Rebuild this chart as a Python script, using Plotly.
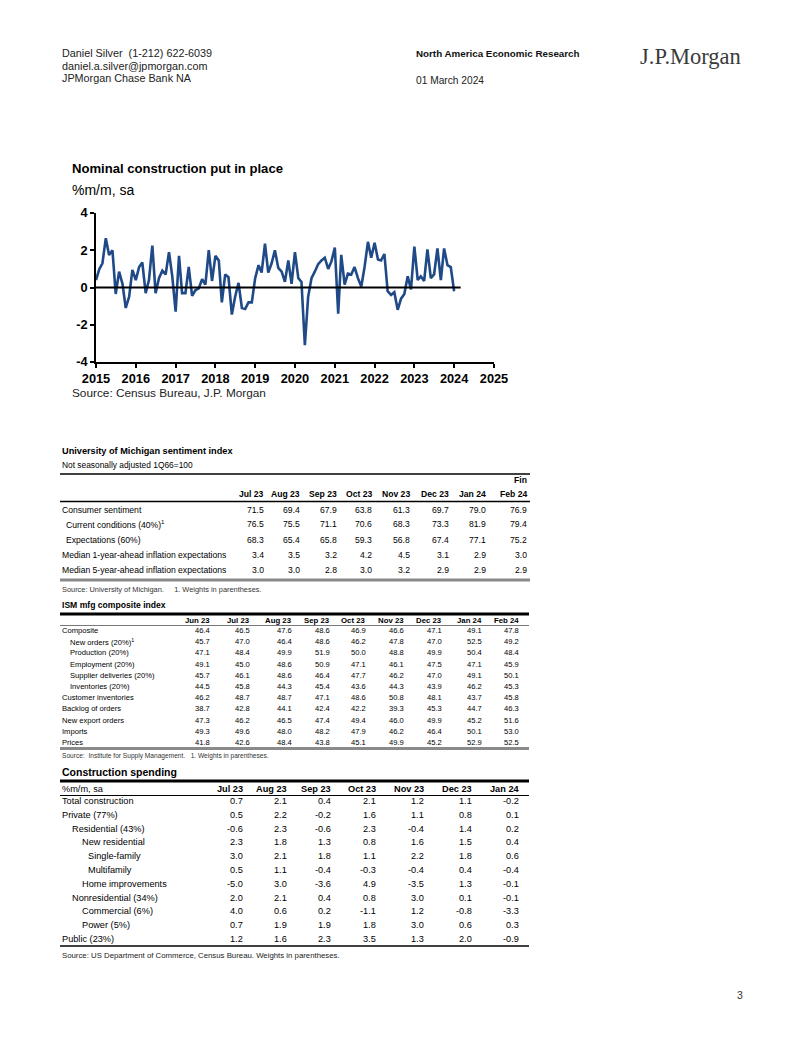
import pandas as pd
import plotly.graph_objects as go

W, H = 802, 1037
PAGE_OFFSET = 8  # the page body margin shifts the figure by 8px
SANS = "Liberation Sans, Arial, sans-serif"
SERIF = "Liberation Serif, Times New Roman, serif"

# ---- chart: nominal construction put in place, %m/m sa, monthly from Jan 2015
start_month = "2015-01-01"
construction_mom = [
    0.4, 1.0, 1.3, 2.65, 1.75, 2.0, -0.35, 0.85, 0.2, -1.1, -0.5, 0.95,
    0.4, 1.1, 1.35, -0.3, 0.4, 2.25, -0.3, 0.5, 0.9, 0.7, 1.9, 0.6,
    -1.3, 1.7, -0.3, -0.3, 1.1, -0.45, -0.15, -0.05, 0.45, 0.15, 2.0, 0.35,
    1.7, 1.45, -0.8, 0.7, 0.55, -1.45, -0.5, 0.25, -1.1, -1.15, -0.8, -0.8,
    0.5, 1.2, 0.8, 2.35, 0.8, 1.3, 2.0, 1.05, 0.85, 0.3, 1.45, 0.2,
    1.9, 0.5, 0.3, -3.1, -0.5, 0.5, 0.85, 1.25, 1.45, 1.6, 1.0, 1.4,
    2.15, -1.4, 1.75, 0.15, 0.75, 0.7, 1.1, 0.5, 0.05, 1.1, 2.45, 1.6,
    2.4, 1.5, 1.45, 1.8, -0.2, -0.4, -0.25, -1.2, -0.6, -0.35, 0.6, -0.1,
    2.2, 0.4, 0.6, 0.35, 2.05, 0.5, 0.7, 2.1, 0.4, 2.1, 1.2, 1.1,
    -0.2,
]
year_ticks = list(range(2015, 2026))
y_ticks = [-4, -2, 0, 2, 4]

# ---- University of Michigan sentiment index
mich_months = ["Jul 23", "Aug 23", "Sep 23", "Oct 23", "Nov 23", "Dec 23", "Jan 24", "Feb 24"]
mich_labels = ["Consumer sentiment", "Current conditions (40%)<sup>1</sup>", "Expectations (60%)",
               "Median 1-year-ahead inflation expectations", "Median 5-year-ahead inflation expectations"]
consumer_sentiment = [71.5, 69.4, 67.9, 63.8, 61.3, 69.7, 79.0, 76.9]
current_conditions = [76.5, 75.5, 71.1, 70.6, 68.3, 73.3, 81.9, 79.4]
expectations = [68.3, 65.4, 65.8, 59.3, 56.8, 67.4, 77.1, 75.2]
infl_exp_1y = [3.4, 3.5, 3.2, 4.2, 4.5, 3.1, 2.9, 3.0]
infl_exp_5y = [3.0, 3.0, 2.8, 3.0, 3.2, 2.9, 2.9, 2.9]

# ---- ISM manufacturing composite index
ism_months = ["Jun 23", "Jul 23", "Aug 23", "Sep 23", "Oct 23", "Nov 23", "Dec 23", "Jan 24", "Feb 24"]
ism_labels = ["Composite", "New orders (20%)<sup>1</sup>", "Production (20%)", "Employment (20%)",
              "Supplier deliveries (20%)", "Inventories (20%)", "Customer inventories",
              "Backlog of orders", "New export orders", "Imports", "Prices"]
ism_composite = [46.4, 46.5, 47.6, 48.6, 46.9, 46.6, 47.1, 49.1, 47.8]
ism_new_orders = [45.7, 47.0, 46.4, 48.6, 46.2, 47.8, 47.0, 52.5, 49.2]
ism_production = [47.1, 48.4, 49.9, 51.9, 50.0, 48.8, 49.9, 50.4, 48.4]
ism_employment = [49.1, 45.0, 48.6, 50.9, 47.1, 46.1, 47.5, 47.1, 45.9]
ism_supplier = [45.7, 46.1, 48.6, 46.4, 47.7, 46.2, 47.0, 49.1, 50.1]
ism_inventories = [44.5, 45.8, 44.3, 45.4, 43.6, 44.3, 43.9, 46.2, 45.3]
ism_customer_inv = [46.2, 48.7, 48.7, 47.1, 48.6, 50.8, 48.1, 43.7, 45.8]
ism_backlog = [38.7, 42.8, 44.1, 42.4, 42.2, 39.3, 45.3, 44.7, 46.3]
ism_new_export = [47.3, 46.2, 46.5, 47.4, 49.4, 46.0, 49.9, 45.2, 51.6]
ism_imports = [49.3, 49.6, 48.0, 48.2, 47.9, 46.2, 46.4, 50.1, 53.0]
ism_prices = [41.8, 42.6, 48.4, 43.8, 45.1, 49.9, 45.2, 52.9, 52.5]

# ---- Construction spending, %m/m sa
cs_months = ["Jul 23", "Aug 23", "Sep 23", "Oct 23", "Nov 23", "Dec 23", "Jan 24"]
cs_labels = ["Total construction", "Private (77%)", "Residential (43%)", "New residential",
             "Single-family", "Multifamily", "Home improvements", "Nonresidential (34%)",
             "Commercial (6%)", "Power (5%)", "Public (23%)"]
cs_total = [0.7, 2.1, 0.4, 2.1, 1.2, 1.1, -0.2]
cs_private = [0.5, 2.2, -0.2, 1.6, 1.1, 0.8, 0.1]
cs_residential = [-0.6, 2.3, -0.6, 2.3, -0.4, 1.4, 0.2]
cs_new_residential = [2.3, 1.8, 1.3, 0.8, 1.6, 1.5, 0.4]
cs_single_family = [3.0, 2.1, 1.8, 1.1, 2.2, 1.8, 0.6]
cs_multifamily = [0.5, 1.1, -0.4, -0.3, -0.4, 0.4, -0.4]
cs_home_improvements = [-5.0, 3.0, -3.6, 4.9, -3.5, 1.3, -0.1]
cs_nonresidential = [2.0, 2.1, 0.4, 0.8, 3.0, 0.1, -0.1]
cs_commercial = [4.0, 0.6, 0.2, -1.1, 1.2, -0.8, -3.3]
cs_power = [0.7, 1.9, 1.9, 1.8, 3.0, 0.6, 0.3]
cs_public = [1.2, 1.6, 2.3, 3.5, 1.3, 2.0, -0.9]


def px(x):
    return (x - PAGE_OFFSET) / W


def py(y):
    return 1 - (y - PAGE_OFFSET) / H


fig = go.Figure()
dates = pd.date_range(start_month, periods=len(construction_mom), freq="MS")
fig.add_trace(go.Scatter(x=dates, y=construction_mom, mode="lines",
                         line=dict(color="#1F4A87", width=2.6), showlegend=False))

# zero line only runs to the end of the data
fig.add_shape(type="line", xref="x", yref="y", x0=dates[0], x1=dates[-1] + pd.DateOffset(months=2),
              y0=0, y1=0, line=dict(color="black", width=1.8))

tickfont = dict(family=SANS, size=12.8, color="black", weight=700)
fig.update_layout(
    width=W, height=H, margin=dict(l=0, r=0, t=0, b=0, autoexpand=False),
    paper_bgcolor="white", plot_bgcolor="white", showlegend=False,
    xaxis=dict(domain=[px(96), px(494)], range=["2015-01-01", "2025-01-01"],
               tickvals=[f"{y}-01-01" for y in year_ticks], ticktext=[str(y) for y in year_ticks],
               tickangle=0, automargin=False,
               showline=True, linecolor="black", linewidth=1.5, ticks="outside", ticklen=4,
               tickcolor="black", tickwidth=1.5, tickfont=tickfont, showgrid=False, zeroline=False),
    yaxis=dict(domain=[py(362), py(213)], range=[-4, 4], tickvals=y_ticks,
               ticktext=[str(v) for v in y_ticks], automargin=False,
               showline=True, linecolor="black", linewidth=1.5, ticks="outside", ticklen=4,
               tickcolor="black", tickwidth=1.5, tickfont=tickfont, showgrid=False, zeroline=False),
)


def text(x, y, s, size, family=SANS, bold=False, anchor="left", color="black"):
    fig.add_annotation(x=px(x), y=py(y), xref="paper", yref="paper", text=s, showarrow=False,
                       xanchor=anchor, yanchor="middle", borderpad=0, borderwidth=0,
                       font=dict(family=family, size=size, color=color, weight=700 if bold else 400))


def hline(y, x0, x1, width, color="black"):
    fig.add_shape(type="line", xref="paper", yref="paper", x0=px(x0), x1=px(x1),
                  y0=py(y), y1=py(y), line=dict(color=color, width=width))


def table_rows(labels, indents, rows, col_right, y0, pitch, size, label_x=62):
    for i, (lab, ind, vals) in enumerate(zip(labels, indents, rows)):
        y = y0 + i * pitch
        text(label_x + ind, y, lab, size)
        for xr, v in zip(col_right, vals):
            text(xr, y, f"{v:.1f}", size, anchor="right")


# ---- page header
text(62, 53, "Daniel Silver\u00a0 (1-212) 622-6039", 10.8, color="#222")
text(62, 66, "daniel.a.silver@jpmorgan.com", 10.8, color="#222")
text(62, 78, "JPMorgan Chase Bank NA", 10.8, color="#222")
text(416, 53, "North America Economic Research", 9.8, bold=True, color="#111")
text(416, 80, "01 March 2024", 10.2, color="#222")
text(640, 56, "J.P.Morgan", 22.5, family=SERIF, color="#3a3a3a")

# ---- chart texts
text(72, 168, "Nominal construction put in place", 13.1, bold=True)
text(72, 190, "%m/m, sa", 14)
text(72, 393, "Source: Census Bureau, J.P. Morgan", 11.8, color="#222")

# ---- University of Michigan table
mich_right = [264, 300, 337, 372, 410, 449, 486, 527]
text(62, 451, "University of Michigan sentiment index", 9.2, bold=True)
text(62, 465, "Not seasonally adjusted 1Q66=100", 8.4)
hline(474, 60, 530, 1.6)
text(mich_right[-1], 480, "Fin", 8.6, bold=True, anchor="right")
for xr, m in zip(mich_right, mich_months):
    text(xr, 494, m, 8.6, bold=True, anchor="right")
hline(501.5, 60, 530, 1.4)
table_rows(mich_labels, [0, 4, 4, 0, 0],
           [consumer_sentiment, current_conditions, expectations, infl_exp_1y, infl_exp_5y],
           mich_right, 509.5, 15, 8.6)
hline(580, 60, 530, 3, color="#8a8a8a")
text(62, 589, "Source: University of Michigan.\u00a0\u00a0\u00a0\u00a0 1. Weights in parentheses.", 7.4, color="#333")

# ---- ISM table
ism_right = [210, 250, 292, 330, 366, 404, 442, 482, 519]
text(62, 605, "ISM mfg composite index", 8.6, bold=True)
hline(614, 60, 529, 3.2)
for xr, m in zip(ism_right, ism_months):
    text(xr, 620, m, 7.8, bold=True, anchor="right")
hline(625.5, 60, 529, 0.8, color="#555")
table_rows(ism_labels, [0, 8, 8, 8, 8, 8, 0, 0, 0, 0, 0],
           [ism_composite, ism_new_orders, ism_production, ism_employment, ism_supplier,
            ism_inventories, ism_customer_inv, ism_backlog, ism_new_export, ism_imports, ism_prices],
           ism_right, 630.5, 11.2, 7.6)
hline(748.5, 60, 529, 3, color="#8a8a8a")
text(62, 755.5, "Source:\u00a0 Institute for Supply Management.\u00a0\u00a0 1. Weights in parentheses.", 6.6, color="#333")

# ---- Construction spending table
cs_right = [243, 287, 331, 376, 424, 472, 519]
text(62, 772, "Construction spending", 10.5, bold=True)
hline(781, 60, 529, 3)
text(62, 789, "%m/m, sa", 9.2)
for xr, m in zip(cs_right, cs_months):
    text(xr, 789, m, 9.2, bold=True, anchor="right")
hline(795.5, 60, 529, 1)
table_rows(cs_labels, [0, 0, 10, 20, 26, 26, 20, 10, 20, 20, 0],
           [cs_total, cs_private, cs_residential, cs_new_residential, cs_single_family,
            cs_multifamily, cs_home_improvements, cs_nonresidential, cs_commercial,
            cs_power, cs_public],
           cs_right, 801, 13.8, 9.2)
hline(946, 60, 529, 1.4)
text(62, 955, "Source: US Department of Commerce, Census Bureau. Weights in parentheses.", 7.8, color="#222")

# page number
text(737, 995, "3", 10.5, color="#333")

fig.write_html("out.html")
